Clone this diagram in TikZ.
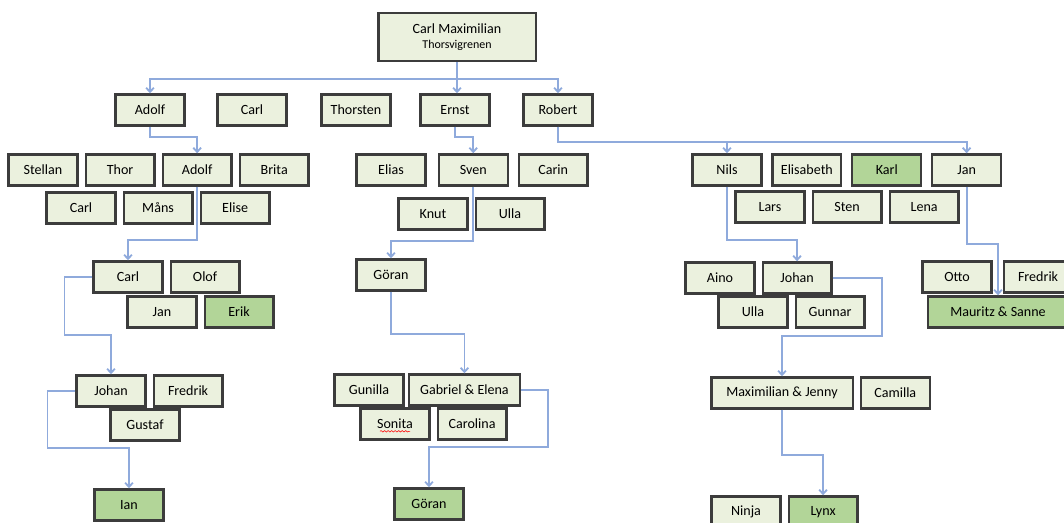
\documentclass[tikz,border=0pt]{standalone}
\usepackage{fontspec}
\setmainfont{Carlito}
\usetikzlibrary{positioning,arrows.meta,calc,decorations.pathmorphing}
\definecolor{boxfill}{RGB}{235,241,222}
\definecolor{heirfill}{RGB}{178,213,152}
\definecolor{boxline}{RGB}{60,60,60}
\definecolor{linkblue}{RGB}{143,170,220}

\begin{document}
\begin{tikzpicture}[x=0.025cm,y=-0.025cm,node distance=0.15cm,
    person/.style={rectangle,draw=boxline,fill=boxfill,line width=1.6pt,minimum width=1.72cm,minimum height=0.78cm,inner sep=1pt,font=\fontsize{10}{11}\selectfont},
    heir/.style={person,fill=heirfill},
    link/.style={draw=linkblue,line width=1.3pt,-{Straight Barb[length=3pt,width=5.5pt]}}]
    \useasboundingbox (0,0) rectangle (1064,522);

    \node[person,minimum width=3.93cm,minimum height=1.2cm,align=center] (root) at (457,37) {Carl Maximilian\\{\fontsize{8.5}{10}\selectfont Thorsvigrenen}};

    % first generation
    \node[person] (adolf1) at (150,110) {Adolf};
    \node[person] (carl1) at (252,110) {Carl};
    \node[person] (thorsten) at (356,110) {Thorsten};
    \node[person] (ernst) at (455,110) {Ernst};
    \node[person] (robert) at (558,110) {Robert};

    % second generation
    \node[person] (stellan) at (43,170) {Stellan};
    \node[person] (thor) [right=of stellan] {Thor};
    \node[person] (adolf2) [right=of thor] {Adolf};
    \node[person] (brita) [right=of adolf2] {Brita};
    \node[person] (carl2) at (81,208) {Carl};
    \node[person] (mans) [right=of carl2] {Måns};
    \node[person] (elise) [right=of mans] {Elise};

    \node[person] (elias) at (391,170) {Elias};
    \node[person] (sven) [right=0.28cm of elias] {Sven};
    \node[person] (carin) [right=0.22cm of sven] {Carin};
    \node[person] (knut) at (433,214) {Knut};
    \node[person] (ulla1) [right=of knut] {Ulla};

    \node[person] (nils) at (727,170) {Nils};
    \node[person] (elisabeth) [right=0.22cm of nils] {Elisabeth};
    \node[heir] (karl) [right=0.22cm of elisabeth] {Karl};
    \node[person] (jan1) [right=0.22cm of karl] {Jan};
    \node[person] (lars) at (770,207) {Lars};
    \node[person] (sten) [right=of lars] {Sten};
    \node[person] (lena) [right=of sten] {Lena};

    % third generation
    \node[person] (carl3) at (128,277) {Carl};
    \node[person] (olof) [right=of carl3] {Olof};
    \node[person] (jan2) at (162,312) {Jan};
    \node[heir] (erik) [right=of jan2] {Erik};

    \node[person] (goran1) at (391,275) {Göran};

    \node[person] (aino) at (720,278) {Aino};
    \node[person] (johan1) [right=of aino] {Johan};
    \node[person] (ulla2) at (753,312) {Ulla};
    \node[person] (gunnar) [right=of ulla2] {Gunnar};

    \node[person] (otto) at (957,277) {Otto};
    \node[person] (fredrik1) [right=0.25cm of otto] {Fredrik};
    \node[heir,minimum width=3.5cm] (mauritz) at (998,312) {Mauritz \& Sanne};

    % fourth generation
    \node[person] (johan2) at (111,391) {Johan};
    \node[person] (fredrik2) [right=of johan2] {Fredrik};
    \node[person] (gustaf) at (145,425) {Gustaf};

    \node[person] (gunilla) at (369,390) {Gunilla};
    \node[person,minimum width=2.78cm] (gabriel) [right=0.08cm of gunilla] {Gabriel \& Elena};
    \node[person] (sonita) at (395,424) {Sonita};
    \node[person] (carolina) [right=of sonita] {Carolina};

    \node[person,minimum width=3.53cm] (maximilian) at (782,393) {Maximilian \& Jenny};
    \node[person] (camilla) [right=of maximilian] {Camilla};

    % youngest
    \node[heir] (ian) at (129,505) {Ian};
    \node[heir] (goran2) at (429,504) {Göran};
    \node[person] (ninja) at (746,512) {Ninja};
    \node[heir] (lynx) [right=of ninja] {Lynx};

    \draw[red,line width=0.4pt,decorate,decoration={snake,amplitude=0.5pt,segment length=2.5pt}]
        ($(sonita.base)+(-15,2.5)$) -- ++(30,0);

    \draw[link] (root.south) -- (root.south |- ernst.north);
    \draw[link] (root.south |- 0,79) -| (adolf1.north);
    \draw[link] (root.south |- 0,79) -| (robert.north);
    \draw[link] (adolf1.south) -- ++(0,10) -| (adolf2.north);
    \draw[link] (ernst.south) -- ++(0,10) -| (sven.north);
    \draw[link] (robert.south) -- ++(0,15) -| (nils.north);
    \draw[link] (robert.south) -- ++(0,15) -| (jan1.north);
    \draw[link] (adolf2.south) -- ++(0,53) -| (carl3.north);
    \draw[link] (sven.south) -- ++(0,54) -| (goran1.north);
    \draw[link] (nils.south) -- ++(0,53) -| (johan1.north);
    \draw[link] (jan1.south) -- ++(0,57) -| (mauritz.north);
    \draw[link] (carl3.west) -- ++(-28,0) -- ++(0,58) -| (johan2.north);
    \draw[link] (goran1.south) -- ++(0,42) -| (gabriel.north);
    \draw[link] (johan1.east) -- ++(49,0) -- ++(0,58) -| (maximilian.north);
    \draw[link] (johan2.west) -- ++(-28,0) -- ++(0,57) -| (ian.north);
    \draw[link] (gabriel.east) -- ++(27,0) -- ++(0,57) -| (goran2.north);
    \draw[link] (maximilian.south) -- ++(0,45) -| (lynx.north);
\end{tikzpicture}
\end{document}
